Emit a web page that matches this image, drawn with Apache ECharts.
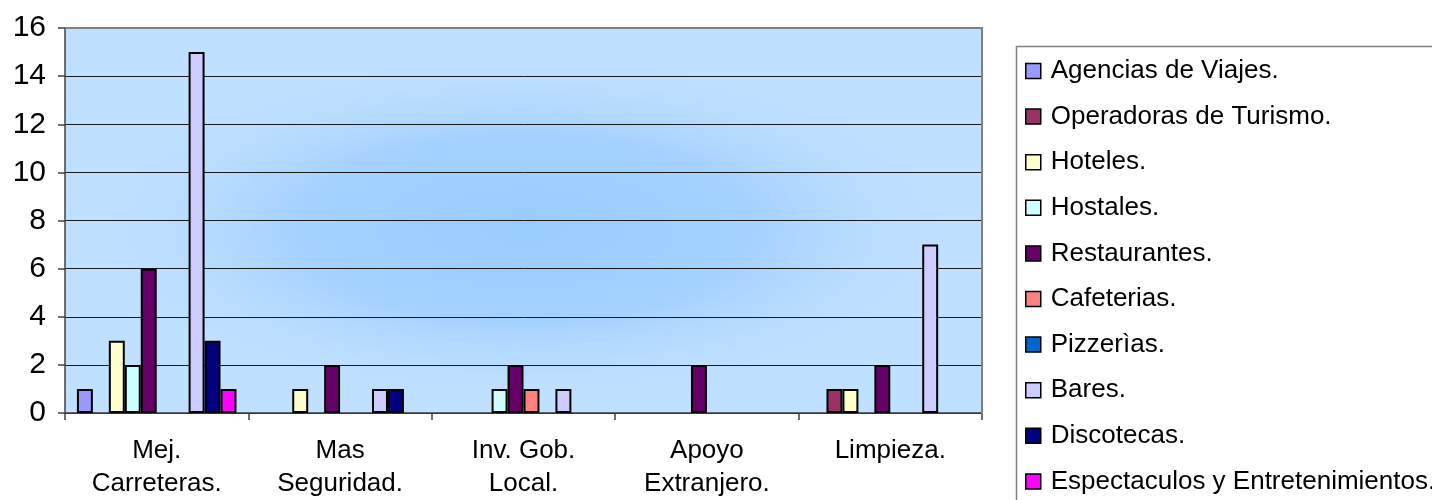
<!DOCTYPE html>
<html>
<head>
<meta charset="utf-8">
<script src="https://cdn.jsdelivr.net/npm/echarts@6/dist/echarts.min.js"></script>
<style>
  html, body { margin: 0; padding: 0; background: #ffffff; }
  #chart { width: 1432px; height: 500px; }
</style>
</head>
<body>
<div id="chart"></div>
<script>
// Categories (x axis) and one value per category for each business type
const categories = ['Mej.\nCarreteras.', 'Mas\nSeguridad.', 'Inv. Gob.\nLocal.', 'Apoyo\nExtranjero.', 'Limpieza.'];
const yTicks = [0, 2, 4, 6, 8, 10, 12, 14, 16];

const seriesNames = [
  'Agencias de Viajes.',
  'Operadoras de Turismo.',
  'Hoteles.',
  'Hostales.',
  'Restaurantes.',
  'Cafeterias.',
  'Pizzerìas.',
  'Bares.',
  'Discotecas.',
  'Espectaculos y Entretenimientos.'
];

const agencias      = [1, 0, 0, 0, 0];
const operadoras    = [0, 0, 0, 0, 1];
const hoteles       = [3, 1, 0, 0, 1];
const hostales      = [2, 0, 1, 0, 0];
const restaurantes  = [6, 2, 2, 2, 2];
const cafeterias    = [0, 0, 1, 0, 0];
const pizzerias     = [0, 0, 0, 0, 0];
const bares         = [15, 1, 1, 0, 7];
const discotecas    = [3, 1, 0, 0, 0];
const espectaculos  = [1, 0, 0, 0, 0];

const seriesValues = [agencias, operadoras, hoteles, hostales, restaurantes,
                      cafeterias, pizzerias, bares, discotecas, espectaculos];

const seriesColors = ['#9999FF', '#993366', '#FFFFCC', '#CCFFFF', '#660066',
                      '#FF8080', '#0066CC', '#CCCCFF', '#000080', '#FF00FF'];

const FONT = '"Liberation Sans", Arial, sans-serif';

const chart = echarts.init(document.getElementById('chart'), null, { renderer: 'canvas' });

// Plot area geometry
const G = { left: 65, top: 28, right: 450, bottom: 86 };
const plotW = 1432 - G.left - G.right;
const plotH = 500 - G.top - G.bottom;

const option = {
  animation: false,
  backgroundColor: '#ffffff',
  color: seriesColors,
  graphic: [
    // plot background: pale blue with a soft deeper-blue glow toward the middle
    {
      type: 'rect', z: -20, silent: true,
      shape: { x: G.left, y: G.top, width: plotW, height: plotH },
      style: { fill: '#C0E0FF' }
    },
    {
      type: 'circle', z: -19, silent: true,
      x: 525, y: 228, scaleX: 2.5, scaleY: 1,
      shape: { cx: 0, cy: 0, r: 185 },
      style: {
        fill: new echarts.graphic.RadialGradient(0.5, 0.5, 0.5, [
          { offset: 0, color: 'rgba(153,204,255,1)' },
          { offset: 0.5, color: 'rgba(160,207,255,0.85)' },
          { offset: 1, color: 'rgba(192,224,255,0)' }
        ])
      }
    },
    // plot frame (top and right)
    {
      type: 'polyline', z: 5, silent: true,
      shape: { points: [[G.left, G.top], [G.left + plotW, G.top], [G.left + plotW, G.top + plotH]] },
      style: { stroke: '#808080', lineWidth: 2, fill: null }
    },
    // legend frame
    {
      type: 'rect', z: 5, silent: true,
      shape: { x: 1016.5, y: 46.5, width: 500, height: 500 },
      style: { fill: '#ffffff', stroke: '#808080', lineWidth: 1.5 }
    }
  ],
  grid: { left: G.left, top: G.top, right: G.right, bottom: G.bottom, containLabel: false },
  legend: {
    orient: 'vertical',
    left: 1025,
    top: 58,
    padding: 0,
    z: 10,
    selectedMode: false,
    data: seriesNames,
    icon: 'rect',
    itemWidth: 15,
    itemHeight: 15,
    itemGap: 19.6,
    itemStyle: { borderColor: '#000000', borderWidth: 1.5 },
    textStyle: {
      fontFamily: FONT, fontSize: 26, color: '#000000',
      lineHeight: 26, padding: [0, 0, 0, 5]
    }
  },
  xAxis: {
    type: 'category',
    data: categories,
    axisLine: { show: true, lineStyle: { color: '#404040', width: 1.5 } },
    axisTick: { show: true, length: 7, alignWithLabel: false, lineStyle: { color: '#404040', width: 1.5 } },
    axisLabel: {
      fontFamily: FONT, fontSize: 26, color: '#000000',
      lineHeight: 33, margin: 21, interval: 0
    },
    splitLine: { show: false }
  },
  yAxis: {
    type: 'value',
    min: yTicks[0],
    max: yTicks[yTicks.length - 1],
    interval: yTicks[1] - yTicks[0],
    axisLine: { show: true, lineStyle: { color: '#404040', width: 1.5 } },
    axisTick: { show: true, length: 7, lineStyle: { color: '#404040', width: 1.5 } },
    axisLabel: { fontFamily: FONT, fontSize: 30, color: '#000000', margin: 19 },
    splitLine: { show: true, lineStyle: { color: '#1a1a1a', width: 1 } }
  },
  series: seriesNames.map((name, i) => ({
    name: name,
    type: 'bar',
    barGap: '0%',
    barCategoryGap: '13%',
    data: seriesValues[i].map(v => (v === 0 ? '-' : v)),
    itemStyle: { color: seriesColors[i], borderColor: '#000000', borderWidth: 2 },
    z: 3
  }))
};

chart.setOption(option);
</script>
</body>
</html>
